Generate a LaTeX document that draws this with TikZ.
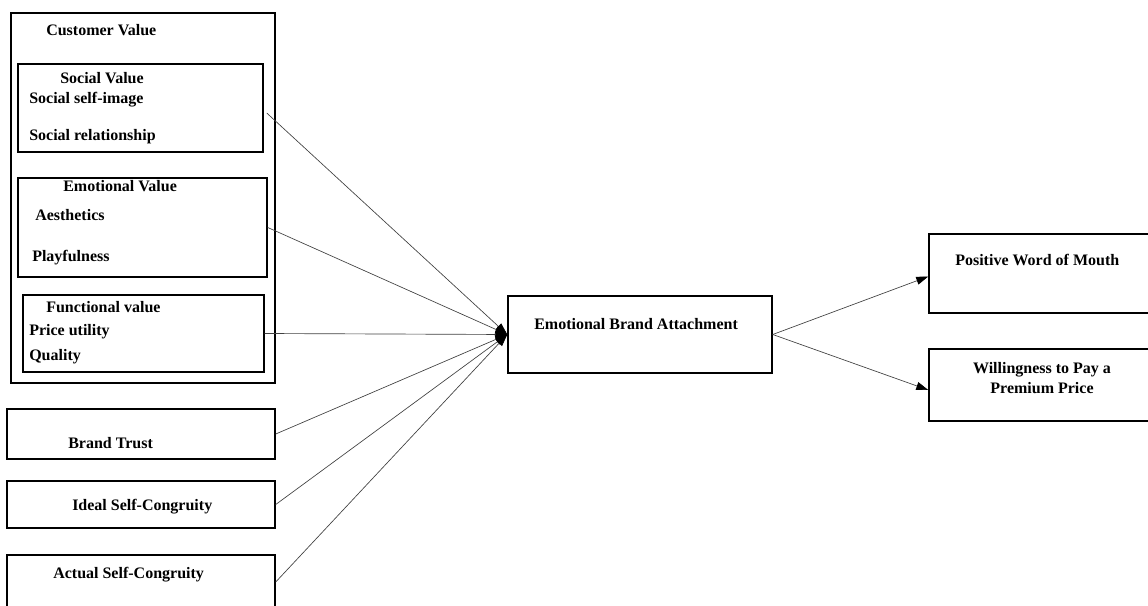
\documentclass[tikz,border=0pt]{standalone}
\usepackage{fontspec}
\setmainfont{Liberation Serif}
\usetikzlibrary{arrows.meta,calc,positioning,fit}

\begin{document}
\begin{tikzpicture}[x=0.75pt,y=-0.75pt,
 every node/.style={font=\fontsize{12}{15}\selectfont\bfseries},
 box/.style={draw,line width=1.1pt,inner sep=0pt},
 lbl/.style={anchor=west,inner sep=0pt},
 link/.style={line width=0.5pt,draw=black!75},
 arr/.style={link,-{Triangle[length=9pt,width=6pt,color=black]}}]
\clip (0,0) rectangle (1148,606);
% boxes
\node[box,fit={(11,13) (275,383)}] (cv) {};
\node[box,fit={(18,64) (263,152)}] (social) {};
\node[box,fit={(18,178) (267,277)}] (emo) {};
\node[box,fit={(23,295) (264,372)}] (func) {};
\node[box,fit={(7,409) (275,459)}] (trust) {};
\node[box,fit={(7,481) (275,528)}] (ideal) {};
\node[box,fit={(7,555) (275,609)}] (actual) {};
\node[box,fit={(508,296) (772,373)}] (eba) {};
\node[box,fit={(929,234) (1152,313)}] (wom) {};
\node[box,fit={(929,349) (1152,421)}] (wtp) {};
% texts
\node[lbl] (cvT) at (46,30) {Customer Value};
\node[lbl] (socialT) at (60,78) {Social Value};
\node[lbl] (selfimg) at (29,100) {Social self-image};
\node[lbl] (relation) at (29,137) {Social relationship};
\node[lbl] (emoT) at (63,186) {Emotional Value};
\node[lbl] (aesth) at (35,215) {Aesthetics};
\node[lbl] (play) at (32,258) {Playfulness};
\node[lbl] (funcT) at (46,307) {Functional value};
\node[lbl] (price) at (29,332) {Price utility};
\node[lbl] (quality) at (29,357) {Quality};
\node[lbl] (trustT) at (68,443) {Brand Trust};
\node[lbl] (idealT) at (72,507) {Ideal Self-Congruity};
\node[lbl] (actualT) at (53,575) {Actual Self-Congruity};
\node[lbl] (ebaT) at (534,324) {Emotional Brand Attachment};
\node[lbl] (womT) at (955,260) {Positive Word of Mouth};
\node[align=center,inner sep=0pt] (wtpT) at (1042,378) {Willingness to Pay a\\Premium Price};
% connectors
\draw[arr] ($(social.east)+(3,5)$) -- (eba.west);
\foreach \src in {emo,func,trust,ideal,actual}
  {\draw[arr] (\src.east) -- (eba.west);}
\draw[arr] (eba.east) -- ($(wom.west)+(0,3)$);
\draw[arr] (eba.east) -- ($(wtp.west)+(0,5)$);
\end{tikzpicture}
\end{document}
